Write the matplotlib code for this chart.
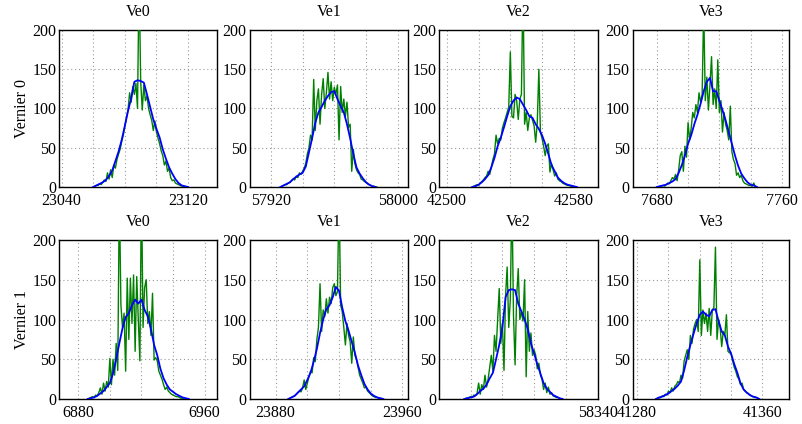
import numpy as np
import matplotlib
matplotlib.use("Agg")
import matplotlib.pyplot as plt

plt.rcParams['font.family'] = ['Liberation Serif', 'DejaVu Serif']

row_labels = ["Vernier 0", "Vernier 1"]
col_titles = ["Ve0", "Ve1", "Ve2", "Ve3"]

# ---- Vernier 0 -------------------------------------------------------------
v0_ve0_start = 23060
v0_ve0_green = [0, 1, 2, 2, 4, 3, 6, 9, 7, 18, 10, 22, 12, 28, 24, 35, 42, 48, 58, 66,
                78, 88, 98, 120, 108, 128, 118, 132, 100, 270, 135, 98, 130, 110, 116, 100,
                92, 85, 72, 84, 70, 62, 55, 46, 40, 28, 33, 20, 24, 12, 8, 9, 5, 4, 3, 2,
                1, 1, 0, 0]
v0_ve0_bstart = 23060
v0_ve0_blue = [0, 2, 4, 6, 9, 14, 21, 33, 45, 60, 78, 97, 113, 134, 136, 135, 133, 118,
               102, 86, 74, 63, 48, 36, 25, 17, 10, 5, 2, 1, 0]

v0_ve1_start = 57927
v0_ve1_green = [1, 2, 3, 3, 5, 6, 8, 10, 9, 14, 12, 18, 16, 20, 24, 30, 42, 50, 66, 60,
                137, 72, 110, 125, 80, 118, 138, 100, 120, 146, 112, 134, 110, 127, 118,
                130, 60, 128, 95, 112, 90, 108, 76, 80, 20, 48, 30, 22, 18, 16, 10, 9, 7,
                6, 4, 3, 2, 1, 1, 0, 0]
v0_ve1_bstart = 57926
v0_ve1_blue = [0, 2, 4, 6, 10, 13, 16, 18, 26, 44, 62, 82, 95, 102, 110, 116, 121, 122,
               112, 103, 95, 80, 62, 42, 25, 17, 11, 6, 3, 1, 0]

v0_ve2_start = 42516
v0_ve2_green = [0, 1, 2, 3, 2, 5, 7, 9, 12, 14, 20, 16, 25, 35, 42, 66, 55, 62, 60, 75,
                82, 88, 95, 102, 172, 90, 88, 118, 110, 86, 112, 118, 260, 80, 95, 72, 88,
                92, 85, 78, 57, 82, 150, 70, 62, 52, 40, 52, 55, 19, 30, 22, 14, 18, 10, 8,
                7, 5, 4, 3, 2, 2, 1, 1, 0]
v0_ve2_bstart = 42516
v0_ve2_blue = [0, 1, 3, 6, 10, 15, 25, 37, 52, 63, 76, 90, 103, 110, 114, 112, 105, 98,
               90, 88, 80, 74, 66, 55, 42, 28, 20, 12, 8, 5, 3, 2, 1, 0]

v0_ve3_start = 7681
v0_ve3_green = [0, 1, 1, 2, 1, 3, 5, 4, 8, 12, 10, 16, 8, 22, 40, 45, 20, 52, 38, 82, 60,
                75, 95, 88, 105, 95, 120, 108, 118, 230, 110, 140, 98, 130, 166, 105, 125,
                100, 162, 95, 110, 70, 95, 80, 72, 60, 103, 45, 35, 30, 15, 18, 12, 15, 8,
                5, 4, 3, 2, 2, 1, 5, 0]
v0_ve3_bstart = 7680
v0_ve3_blue = [0, 1, 2, 3, 5, 7, 10, 18, 28, 40, 55, 66, 80, 92, 106, 122, 134, 139, 122,
               122, 110, 98, 85, 70, 55, 40, 27, 17, 11, 6, 3, 2, 0]

# ---- Vernier 1 -------------------------------------------------------------
v1_ve0_start = 6886
v1_ve0_green = [0, 1, 2, 3, 2, 5, 4, 8, 14, 6, 20, 10, 22, 15, 51, 18, 50, 30, 70, 36,
                260, 118, 90, 108, 35, 152, 75, 152, 95, 156, 60, 154, 100, 48, 270, 90,
                140, 150, 95, 110, 80, 133, 49, 52, 48, 35, 30, 25, 18, 12, 15, 10, 8, 6,
                5, 4, 3, 3, 2, 1, 1, 0, 0]
v1_ve0_bstart = 6886
v1_ve0_blue = [0, 1, 2, 4, 7, 10, 15, 20, 32, 50, 70, 89, 103, 108, 118, 125, 120, 125,
               112, 104, 88, 68, 55, 38, 26, 18, 12, 9, 6, 4, 2, 1, 0]

v1_ve1_start = 23888
v1_ve1_green = [0, 1, 2, 3, 4, 6, 8, 10, 9, 14, 24, 12, 20, 28, 35, 33, 52, 47, 75, 90,
                145, 85, 112, 104, 126, 108, 128, 120, 140, 145, 130, 135, 260, 118, 110,
                90, 68, 95, 80, 72, 45, 78, 55, 50, 40, 30, 25, 20, 14, 15, 10, 8, 6, 4, 3,
                2, 2, 1, 1, 0]
v1_ve1_bstart = 23888
v1_ve1_blue = [0, 2, 4, 8, 12, 16, 24, 33, 47, 63, 83, 100, 113, 118, 128, 141, 136, 115,
               98, 86, 72, 58, 42, 30, 19, 12, 7, 4, 2, 1, 0]

v1_ve2_start = 58256
v1_ve2_green = [0, 1, 1, 2, 3, 2, 5, 4, 7, 20, 6, 18, 12, 30, 15, 25, 40, 55, 35, 80, 60,
                100, 139, 70, 95, 36, 130, 166, 90, 125, 260, 105, 43, 130, 164, 100, 110,
                98, 150, 28, 110, 60, 83, 55, 62, 55, 38, 45, 30, 25, 12, 20, 8, 15, 6, 8,
                4, 3, 2, 2, 1, 0]
v1_ve2_bstart = 58256
v1_ve2_blue = [0, 1, 2, 3, 6, 10, 13, 18, 26, 33, 50, 68, 90, 128, 137, 138, 137, 120,
               110, 100, 88, 70, 57, 44, 32, 20, 13, 9, 5, 3, 1, 0]

v1_ve3_start = 41292
v1_ve3_green = [0, 1, 1, 2, 4, 3, 6, 5, 10, 8, 14, 10, 16, 18, 22, 20, 30, 26, 48, 55, 62,
                50, 80, 70, 88, 95, 100, 85, 175, 80, 112, 95, 108, 85, 114, 80, 112, 115,
                191, 75, 100, 90, 66, 85, 80, 106, 60, 58, 57, 48, 40, 35, 28, 25, 18, 20,
                12, 10, 8, 7, 5, 4, 3, 2, 2, 1, 0]
v1_ve3_bstart = 41292
v1_ve3_blue = [0, 2, 3, 5, 7, 10, 13, 17, 22, 36, 53, 68, 82, 95, 106, 110, 106, 104, 112,
               113, 98, 85, 80, 66, 57, 44, 33, 20, 12, 8, 5, 3, 2, 0]

# ---- axis ranges and labelled ticks ----------------------------------------
xlims = [[(23038.5, 23138.5), (57906.5, 58006.5), (42495, 42595), (7664.5, 7764.5)],
         [(6868, 6968), (23863.5, 23963.5), (58240, 58340), (41277, 41377)]]
xlabels = [[[23040, 23120], [57920, 58000], [42500, 42580], [7680, 7760]],
           [[6880, 6960], [23880, 23960], [58340], [41280, 41360]]]
yticks = [0, 50, 100, 150, 200]

greens = [[(v0_ve0_start, v0_ve0_green), (v0_ve1_start, v0_ve1_green),
           (v0_ve2_start, v0_ve2_green), (v0_ve3_start, v0_ve3_green)],
          [(v1_ve0_start, v1_ve0_green), (v1_ve1_start, v1_ve1_green),
           (v1_ve2_start, v1_ve2_green), (v1_ve3_start, v1_ve3_green)]]
blues = [[(v0_ve0_bstart, v0_ve0_blue), (v0_ve1_bstart, v0_ve1_blue),
          (v0_ve2_bstart, v0_ve2_blue), (v0_ve3_bstart, v0_ve3_blue)],
         [(v1_ve0_bstart, v1_ve0_blue), (v1_ve1_bstart, v1_ve1_blue),
          (v1_ve2_bstart, v1_ve2_blue), (v1_ve3_bstart, v1_ve3_blue)]]

W, H = 802, 424
fig = plt.figure(figsize=(W / 100, H / 100), dpi=100)

lefts = [59.3, 249.5, 439.0, 632.5]
widths = [158, 158.5, 158.5, 156.5]
tops = [30, 240]
heights = [157, 159]

for r in range(2):
    for c in range(4):
        ax = fig.add_axes([lefts[c] / W, (H - tops[r] - heights[r]) / H,
                           widths[c] / W, heights[r] / H])
        gs, gv = greens[r][c]
        bs, bv = blues[r][c]
        gx = np.arange(gs, gs + len(gv))
        bx = np.arange(bs, bs + 2 * len(bv), 2)
        ax.plot(gx, gv, color='#008000', lw=1.0, zorder=3)
        ax.plot(bx, bv, color='#0000ff', lw=1.3, zorder=4)
        lo, hi = xlims[r][c]
        ax.set_xlim(lo, hi)
        ax.set_ylim(0, 200)
        first = int(np.ceil(lo / 20.0) * 20)
        ticks = list(range(first, int(hi) + 1, 20))
        ax.set_xticks(ticks)
        ax.set_xticklabels([str(t) if t in xlabels[r][c] else '' for t in ticks])
        ax.set_yticks(yticks)
        ax.set_yticklabels([str(t) for t in yticks])
        ax.grid(True, color='#999999', linestyle=(0, (1, 2.5)), linewidth=0.8)
        ax.set_axisbelow(True)
        ax.tick_params(direction='in', length=0, labelsize=11.5,
                       top=False, right=False)
        ax.tick_params(axis='x', pad=4)
        ax.tick_params(axis='y', pad=2)
        for s in ax.spines.values():
            s.set_linewidth(1.0)
            s.set_color('black')
        ax.set_title(col_titles[c], fontsize=11.5, pad=10)
        if c == 0:
            ax.set_ylabel(row_labels[r], fontsize=11.5, labelpad=2)

fig.savefig("out.png", dpi=100)
